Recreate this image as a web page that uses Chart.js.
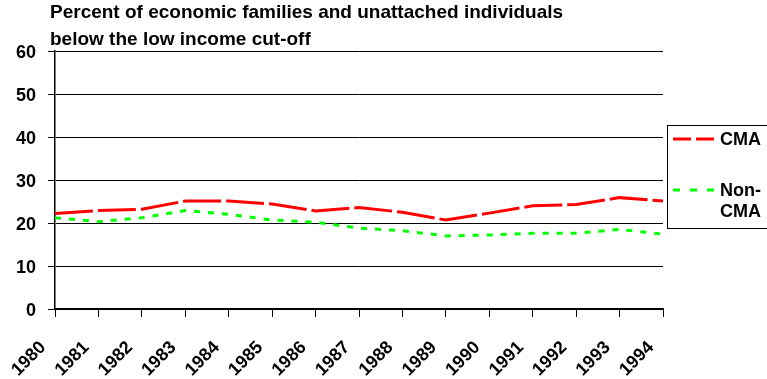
<!DOCTYPE html>
<html>
<head>
<meta charset="utf-8">
<script src="https://cdn.jsdelivr.net/npm/chart.js@4/dist/chart.umd.min.js"></script>
<style>
  html, body { margin: 0; padding: 0; background: #fff; }
  #wrap { width: 767px; height: 379px; position: relative; }
</style>
</head>
<body>
<div id="wrap"><canvas id="lico"></canvas></div>
<script>
// Years on the x axis
const years = ['1980', '1981', '1982', '1983', '1984', '1985', '1986', '1987',
               '1988', '1989', '1990', '1991', '1992', '1993', '1994'];

// Percent below the low income cut-off
const cmaValues    = [22.2, 22.9, 23.2, 25.1, 25.1, 24.4, 22.8, 23.6, 22.5, 20.7, 22.3, 24.0, 24.3, 25.9, 25.1];
const nonCmaValues = [21.2, 20.3, 21.2, 22.9, 22.0, 20.7, 20.2, 18.8, 18.2, 17.0, 17.2, 17.6, 17.6, 18.5, 17.4];

const yTicks = [0, 10, 20, 30, 40, 50, 60];

const titleLines = ['Percent of economic families and unattached individuals',
                    'below the low income cut-off'];

const FONT = '"Liberation Sans", Arial, sans-serif';

// Title drawn in the top-left corner
const titlePlugin = {
    id: 'topTitle',
    afterDraw(chart) {
        const ctx = chart.ctx;
        ctx.save();
        ctx.fillStyle = '#000';
        ctx.font = 'bold 19px ' + FONT;
        ctx.textBaseline = 'alphabetic';
        ctx.fillText(titleLines[0], 50, 18);
        ctx.fillText(titleLines[1], 50, 45);
        ctx.restore();
    }
};

// Boxed legend on the right side, with "Non-CMA" wrapped on two lines
const boxLegend = {
    id: 'boxLegend',
    afterDraw(chart) {
        const ctx = chart.ctx;
        const ds = chart.data.datasets;
        ctx.save();
        ctx.fillStyle = '#fff';
        ctx.fillRect(667, 125, 110, 103);
        ctx.strokeStyle = '#000';
        ctx.lineWidth = 1;
        ctx.strokeRect(667.5, 125.5, 110, 103);

        const rows = [{ y: 139, lines: ['CMA'] }, { y: 190, lines: ['Non-', 'CMA'] }];
        rows.forEach((row, i) => {
            ctx.beginPath();
            ctx.strokeStyle = ds[i].borderColor;
            ctx.lineWidth = ds[i].borderWidth;
            ctx.setLineDash(ds[i].legendDash);
            ctx.moveTo(673, row.y);
            ctx.lineTo(716, row.y);
            ctx.stroke();
            ctx.setLineDash([]);
            ctx.fillStyle = '#000';
            ctx.font = 'bold 18px ' + FONT;
            ctx.textBaseline = 'middle';
            row.lines.forEach((t, j) => ctx.fillText(t, 720, row.y + 1 + j * 21));
        });
        ctx.restore();
    }
};

new Chart(document.getElementById('lico'), {
    type: 'line',
    data: {
        labels: years,
        datasets: [{
            label: 'CMA',
            data: cmaValues,
            borderColor: '#ff0000',
            borderWidth: 3,
            borderDash: [38, 5],
            legendDash: [18, 5],
            pointRadius: 0,
            tension: 0
        }, {
            label: 'Non-CMA',
            data: nonCmaValues,
            borderColor: '#00ff00',
            borderWidth: 3,
            borderDash: [6, 8],
            legendDash: [7, 10],
            pointRadius: 0,
            tension: 0
        }]
    },
    options: {
        responsive: true,
        maintainAspectRatio: false,
        animation: false,
        layout: { padding: { top: 51, right: 104, left: 0, bottom: 0 } },
        plugins: {
            legend: { display: false },
            title: { display: false },
            tooltip: { enabled: false }
        },
        scales: {
            x: {
                offset: false,
                afterFit(scale) { scale.height = 70; },
                grid: {
                    display: true,
                    drawOnChartArea: false,
                    drawTicks: true,
                    tickLength: 8,
                    color: '#000'
                },
                border: { display: true, color: '#000', width: 1.5 },
                ticks: {
                    color: '#000',
                    font: { family: FONT, size: 18, weight: 'bold' },
                    maxRotation: 45,
                    minRotation: 45,
                    autoSkip: false,
                    padding: 20,
                    labelOffset: -12
                }
            },
            y: {
                min: 0,
                max: 60,
                afterFit(scale) { scale.width = 55; },
                afterBuildTicks(scale) { scale.ticks = yTicks.map(v => ({ value: v })); },
                grid: {
                    color: '#000',
                    lineWidth: 1,
                    drawTicks: true,
                    tickLength: 7
                },
                border: { display: true, color: '#000', width: 1.5 },
                ticks: {
                    color: '#000',
                    font: { family: FONT, size: 18, weight: 'bold' },
                    padding: 12,
                    labelOffset: 2
                }
            }
        }
    },
    plugins: [titlePlugin, boxLegend]
});
</script>
</body>
</html>
